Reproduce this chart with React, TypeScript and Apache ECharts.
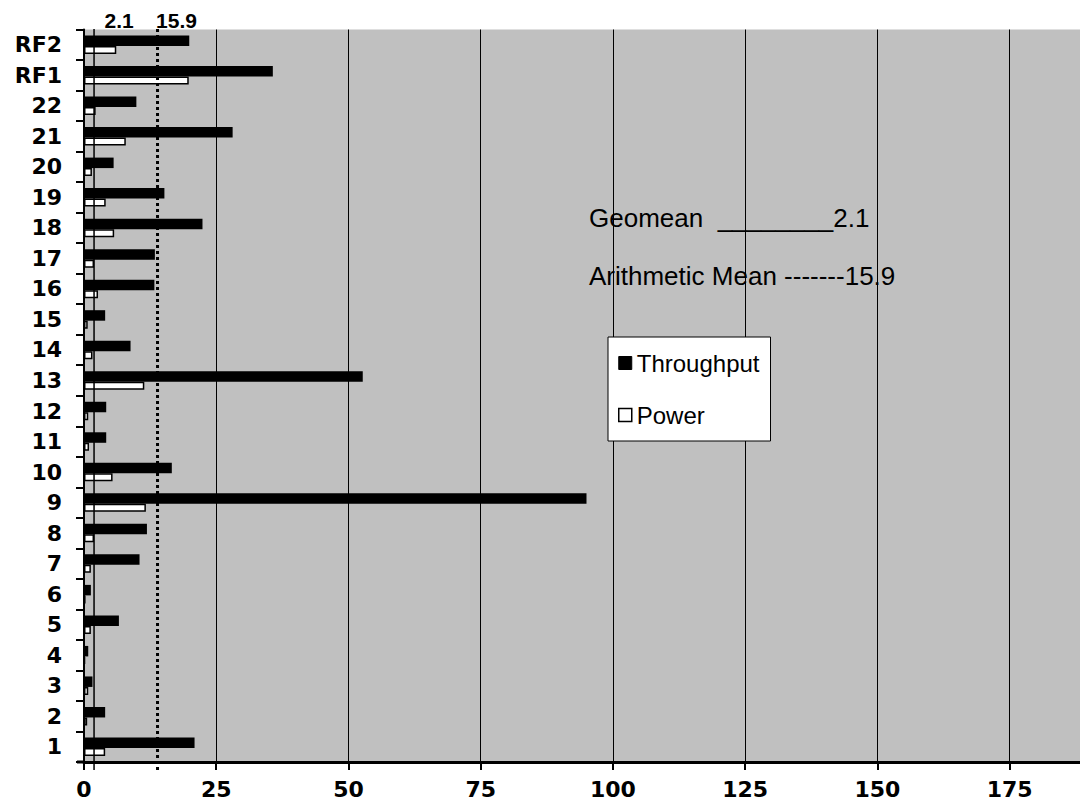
import React, { useEffect, useRef } from "react";
import * as echarts from "echarts";

const categories = ["1", "2", "3", "4", "5", "6", "7", "8", "9", "10", "11", "12", "13", "14", "15", "16", "17", "18", "19", "20", "21", "22", "RF1", "RF2"];
const throughput = [20.9, 4.0, 1.6, 0.8, 6.6, 1.3, 10.5, 11.9, 95.0, 16.6, 4.2, 4.2, 52.7, 8.8, 4.0, 13.3, 13.4, 22.4, 15.2, 5.6, 28.1, 9.9, 35.7, 19.9];
const power = [4.0, 0.6, 0.8, 0.2, 1.3, 0.3, 1.3, 1.9, 11.7, 5.4, 0.95, 0.8, 11.4, 1.6, 0.7, 2.65, 1.9, 5.7, 4.1, 1.5, 7.9, 2.2, 19.8, 6.1];
const xTicks = [0, 25, 50, 75, 100, 125, 150, 175];
// reference lines as drawn in the picture (label text, x position)
const markerLabels = ["2.1", "15.9"];
const markerPositions = [1.9, 13.9];
const annotationTexts = ["Geomean  ________2.1", "Arithmetic Mean -------15.9"];

const AXIS_FONT = "'DejaVu Sans', sans-serif";
const TEXT_FONT = "'Liberation Sans', Arial, sans-serif";

export default function App() {
  const ref = useRef<HTMLDivElement>(null);
  useEffect(() => {
    if (!ref.current) return;
    const chart = echarts.init(ref.current, null, { renderer: "svg" });
    const option: any = {
      animation: false,
      backgroundColor: "#ffffff",
      grid: {
        left: 84,
        right: 0,
        top: 29.5,
        bottom: 41,
        containLabel: false,
        outerBoundsMode: "none",
        show: true,
        backgroundColor: "#c0c0c0",
        borderWidth: 0,
      },
      legend: {
        orient: "vertical",
        left: 608,
        top: 337,
        padding: [14, 11, 14, 10],
        itemGap: 28,
        itemWidth: 13,
        itemHeight: 13,
        icon: "rect",
        backgroundColor: "#ffffff",
        borderColor: "#000000",
        borderWidth: 1,
        textStyle: { fontFamily: TEXT_FONT, fontSize: 24, color: "#000" },
        data: [
          { name: "Throughput", itemStyle: { color: "#000", borderColor: "#000", borderWidth: 1 } },
          { name: "Power", itemStyle: { color: "#fff", borderColor: "#000", borderWidth: 1.5 } },
        ],
        selectedMode: false,
      },
      xAxis: {
        type: "value",
        min: 0,
        max: 188.3,
        interval: 25,
        axisLine: { show: true, lineStyle: { color: "#000", width: 3 } },
        axisTick: { show: true, length: 8, lineStyle: { color: "#000", width: 2 } },
        axisLabel: {
          margin: 16,
          fontFamily: AXIS_FONT,
          fontWeight: "bold",
          fontSize: 22,
          color: "#000",
          showMaxLabel: false,
          formatter: (v: number) => (xTicks.indexOf(v) >= 0 ? String(v) : ""),
        },
        splitLine: { show: true, lineStyle: { color: "#000", width: 1 } },
      },
      yAxis: {
        type: "category",
        data: categories,
        axisLine: { show: true, lineStyle: { color: "#000", width: 2 } },
        axisTick: { show: true, length: 8, lineStyle: { color: "#000", width: 2 } },
        axisLabel: {
          margin: 22,
          fontFamily: AXIS_FONT,
          fontWeight: "bold",
          fontSize: 22,
          color: "#000",
          interval: 0,
        },
        splitLine: { show: false },
      },
      series: [
        {
          name: "Throughput",
          type: "bar",
          data: throughput,
          barWidth: 10.5,
          barGap: "0%",
          itemStyle: { color: "#000", borderColor: "#000", borderWidth: 0 },
        },
        {
          name: "Power",
          type: "bar",
          data: power,
          barWidth: 8,
          barGap: "0%",
          itemStyle: { color: "#fff", borderColor: "#000", borderWidth: 1.5 },
        },
      ],
    };
    chart.setOption(option);

    const topY = 29;
    const bottomY = 770;
    const labelOffsets = [25, 19];
    const px = markerPositions.map((v) => chart.convertToPixel({ xAxisIndex: 0 }, v) as number);
    const graphic: any[] = [
      {
        type: "line",
        z: 10,
        shape: { x1: 77, y1: 762, x2: 84, y2: 762 },
        style: { stroke: "#000", lineWidth: 3 },
      },
      {
        type: "line",
        z: 10,
        shape: { x1: px[0], y1: topY, x2: px[0], y2: bottomY },
        style: { stroke: "#000", lineWidth: 1.5 },
      },
      {
        type: "line",
        z: 10,
        shape: { x1: px[1], y1: topY, x2: px[1], y2: bottomY },
        style: { stroke: "#000", lineWidth: 3, lineDash: [3, 3] },
      },
      ...markerLabels.map((t, i) => ({
        type: "text",
        z: 10,
        x: px[i] + labelOffsets[i],
        y: 20,
        style: {
          text: t,
          fill: "#000",
          font: `bold 21px ${TEXT_FONT}`,
          textAlign: "center",
          textVerticalAlign: "middle",
        },
      })),
      {
        type: "text",
        z: 10,
        x: 589,
        y: 218,
        style: { text: annotationTexts[0], fill: "#000", font: `26px ${TEXT_FONT}`, textAlign: "left", textVerticalAlign: "middle" },
      },
      {
        type: "text",
        z: 10,
        x: 589,
        y: 276,
        style: { text: annotationTexts[1], fill: "#000", font: `26px ${TEXT_FONT}`, textAlign: "left", textVerticalAlign: "middle" },
      },
    ];
    chart.setOption({ graphic });
    return () => chart.dispose();
  }, []);
  return <div ref={ref} style={{ position: "fixed", left: 0, top: 0, width: 1080, height: 803 }} />;
}
